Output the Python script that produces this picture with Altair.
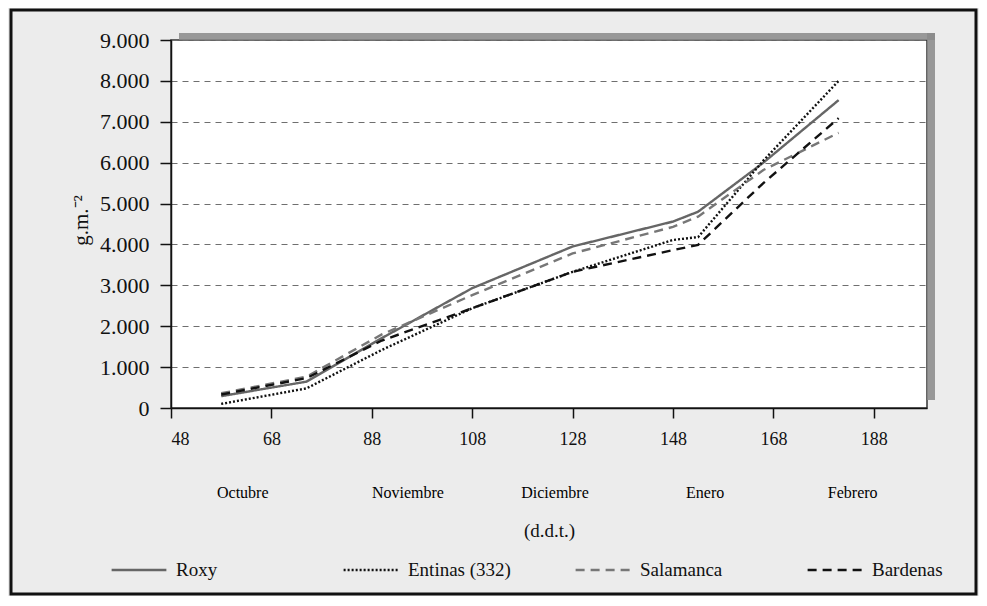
import altair as alt
import pandas as pd

# ---- data ----
days = [58, 75, 90, 108, 128, 148, 153, 166, 181]
roxy = [290, 645, 1710, 2930, 3950, 4560, 4800, 6000, 7530]
entinas = [100, 480, 1420, 2440, 3330, 4110, 4180, 6050, 8000]
salamanca = [360, 765, 1800, 2760, 3780, 4430, 4680, 5820, 6730]
bardenas = [330, 730, 1650, 2440, 3330, 3860, 3990, 5500, 7090]
series_names = ["Roxy", "Entinas (332)", "Salamanca", "Bardenas"]
months = ["Octubre", "Noviembre", "Diciembre", "Enero", "Febrero"]
month_days = [62.3, 95.2, 124.5, 154.4, 183.8]
x_ticks = [48, 68, 88, 108, 128, 148, 168, 188]
y_ticks = [0, 1000, 2000, 3000, 4000, 5000, 6000, 7000, 8000, 9000]

rows = []
for name, vals in zip(series_names, [roxy, entinas, salamanca, bardenas]):
    for d, v in zip(days, vals):
        rows.append({"day": d, "value": v, "series": name})
df = pd.DataFrame(rows)
mdf = pd.DataFrame({"day": month_days, "month": months})

W, H = 756, 368
x_scale = alt.Scale(domain=[48, 198.6], nice=False, zero=False)
y_scale = alt.Scale(domain=[0, 9000], nice=False)

x_axis = alt.Axis(values=x_ticks, title="(d.d.t.)", grid=False,
                  labelFont="Liberation Serif", labelFontSize=18, labelColor="#111",
                  labelPadding=12, tickSize=10, tickColor="#111", domainColor="#111",
                  domainWidth=1.5, tickWidth=1.5,
                  titleFont="Liberation Serif", titleFontSize=19, titleFontWeight="normal",
                  titleColor="#111", titleY=122, titleBaseline="middle")
y_axis = alt.Axis(values=y_ticks, title="g.m.⁻²", grid=True, gridDash=[6, 5],
                  gridColor="#6f6f6f", gridWidth=1,
                  labelExpr="replace(format(datum.value, ','), ',', '.')",
                  labelFont="Liberation Serif", labelFontSize=22, labelColor="#111",
                  labelPadding=11, tickSize=11, tickColor="#111", domainColor="#111",
                  domainWidth=1.5, tickWidth=1.5,
                  titleFont="Liberation Serif", titleFontSize=21, titleFontWeight="normal",
                  titleColor="#111", titleX=-80, titleY=180)

legend = alt.Legend(title=None, orient="none", legendX=-61, legendY=501,
                    direction="horizontal", columns=4, symbolType="stroke",
                    symbolSize=3000, symbolStrokeWidth=2.5, labelFont="Liberation Serif",
                    labelFontSize=19, labelColor="#111", columnPadding=59,
                    gridAlign="all", labelOffset=8, labelLimit=300)

colors = ["#666666", "#111111", "#777777", "#111111"]
dashes = [[1, 0], [2, 2], [9, 6], [9, 6]]

lines = alt.Chart(df).mark_line(strokeWidth=2.4).encode(
    x=alt.X("day:Q", scale=x_scale, axis=x_axis),
    y=alt.Y("value:Q", scale=y_scale, axis=y_axis),
    color=alt.Color("series:N", scale=alt.Scale(domain=series_names, range=colors), legend=legend),
    strokeDash=alt.StrokeDash("series:N", scale=alt.Scale(domain=series_names, range=dashes), legend=legend),
)

month_text = alt.Chart(mdf).mark_text(font="Liberation Serif", fontSize=16, color="#000").encode(
    x=alt.X("day:Q", scale=x_scale, axis=x_axis),
    y=alt.value(453),
    text="month:N",
)

one = alt.Data(values=[{"k": 1}])
shadow_top = alt.Chart(one).mark_rect(color="#8a8a8a", opacity=0.85).encode(
    x=alt.value(8), x2=alt.value(W + 8), y=alt.value(-7), y2=alt.value(0))
shadow_right = alt.Chart(one).mark_rect(color="#8a8a8a", opacity=0.85).encode(
    x=alt.value(W), x2=alt.value(W + 8), y=alt.value(-7), y2=alt.value(H - 8))
frame = alt.Chart(one).mark_rect(fillOpacity=0, stroke="#111", strokeWidth=3).encode(
    x=alt.value(-160), x2=alt.value(805), y=alt.value(-30), y2=alt.value(554))

chart = alt.layer(frame, shadow_top, shadow_right, lines, month_text).properties(
    width=W, height=H,
    autosize=alt.AutoSizeParams(type="none"),
    padding={"left": 163, "top": 32, "right": 52, "bottom": 188},
    background="#ececec",
).configure_view(fill="white", stroke="#333", strokeWidth=1.5)

chart.save("out.html", embed_options={"renderer": "svg", "actions": False})
